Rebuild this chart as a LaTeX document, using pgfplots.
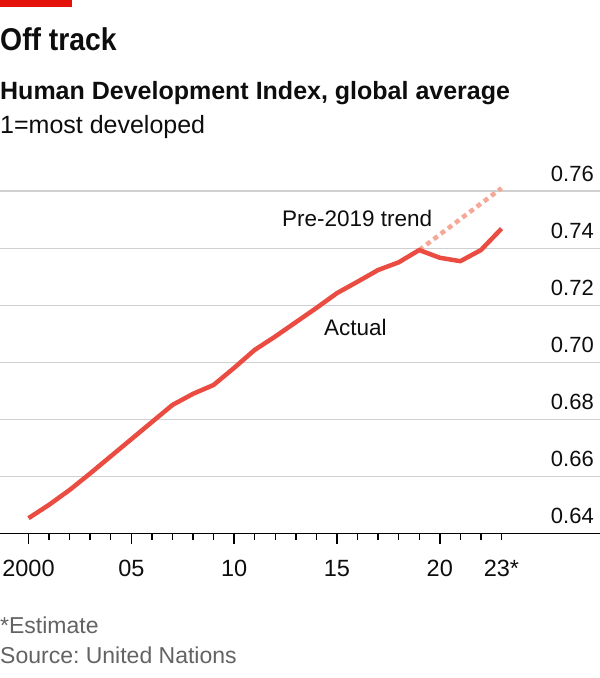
\documentclass[border=0pt]{standalone}
\usepackage{fontspec}
\setmainfont{Liberation Sans}
\newfontfamily\titlefont[FakeStretch=0.9]{Liberation Sans}
\usepackage{pgfplots}
\usepackage{pgfplotstable}
\pgfplotsset{compat=1.18}
\definecolor{barred}{HTML}{E3120B}
\definecolor{linered}{HTML}{EB4C42}
\definecolor{trendpink}{HTML}{F5A898}
\definecolor{gridgrey}{HTML}{D0D0D0}
\definecolor{footgrey}{HTML}{636363}
\definecolor{txt}{HTML}{0D0D0D}
\frenchspacing

\pgfplotstableread{
year hdi
2000 0.6453
2001 0.6500
2002 0.6552
2003 0.6610
2004 0.6670
2005 0.6730
2006 0.6790
2007 0.6850
2008 0.6889
2009 0.6920
2010 0.6980
2011 0.7043
2012 0.7090
2013 0.7140
2014 0.7190
2015 0.7242
2016 0.7282
2017 0.7323
2018 0.7350
2019 0.7393
2020 0.7366
2021 0.7354
2022 0.7393
2023 0.7468
}\actual

\pgfplotstableread{
year hdi
2019 0.7393
2023 0.7610
}\trend

\begin{document}
\frenchspacing
\begin{tikzpicture}[x=1pt,y=1pt]
\begin{axis}[
  at={(0pt,-533.3pt)}, anchor=south west,
  scale only axis, width=600pt, height=342.3pt,
  xmin=1998.614, xmax=2027.79, ymin=0.64, ymax=0.76,
  axis x line=bottom, axis y line=right,
  x axis line style={-, line width=1.4pt, black},
  y axis line style={draw=none},
  ytick={0.66,0.68,0.70,0.72,0.74,0.76},
  yticklabels={0.66,0.68,0.70,0.72,0.74,0.76},
  extra y ticks={0.64}, extra y tick labels={0.64},
  extra y tick style={grid=none},
  ymajorgrids, grid style={gridgrey, line width=1.1pt},
  ytick style={draw=none},
  xtick={2000,2005,2010,2015,2020}, xticklabels={2000,05,10,15,20},
  minor xtick={2001,2002,2003,2004,2006,2007,2008,2009,2011,2012,2013,2014,2016,2017,2018,2019,2021,2022,2023},
  extra x ticks={2023}, extra x tick labels={23*},
  extra x tick style={major tick length=6.7pt, xticklabel style={yshift=-4pt}},
  tick align=outside, major tick length=10.7pt, minor tick length=6.7pt,
  xtick style={line width=1.4pt, black},
  every minor tick/.append style={line width=1.4pt, black},
  xminorgrids=false,
  xticklabel style={font=\fontsize{23.5}{24}\selectfont, anchor=base, inner sep=0pt, yshift=-32pt, text=txt},
  yticklabel style={font=\fontsize{22}{24}\selectfont, anchor=base east, inner sep=0pt, xshift=-16.7pt, yshift=10pt, text=txt},
  clip=false,
]
\addplot[line width=4.5pt, color=trendpink, dash pattern=on 5pt off 4pt] table[x=year,y=hdi]{\trend};
\addplot[line width=4.5pt, color=linered, line join=round] table[x=year,y=hdi]{\actual};
\end{axis}
\fill[barred] (0,0) rectangle (72,-6.7);
\node[anchor=base west, inner sep=0pt, font={\titlefont\bfseries\fontsize{31.5}{31}\selectfont}, text=txt] at (0,-50) {Off track};
\node[anchor=base west, inner sep=0pt, font={\bfseries\fontsize{25}{25}\selectfont}, text=txt] at (0,-99) {Human Development Index, global average};
\node[anchor=base west, inner sep=0pt, font={\fontsize{25}{25}\selectfont}, text=txt] at (0,-133) {1=most developed};
\node[anchor=base west, inner sep=0pt, font={\fontsize{22.5}{23}\selectfont}, text=txt] at (282,-226) {Pre-2019 trend};
\node[anchor=base west, inner sep=0pt, font={\fontsize{22.5}{23}\selectfont}, text=txt] at (324,-335) {Actual};
\node[anchor=base west, inner sep=0pt, font={\fontsize{23}{23}\selectfont}, text=footgrey] at (0,-633.3) {*Estimate};
\node[anchor=base west, inner sep=0pt, font={\fontsize{23}{23}\selectfont}, text=footgrey] at (0,-663.3) {Source: United Nations};
\pgfresetboundingbox
\path[use as bounding box] (0,0) rectangle (600,-678);
\end{tikzpicture}
\end{document}
